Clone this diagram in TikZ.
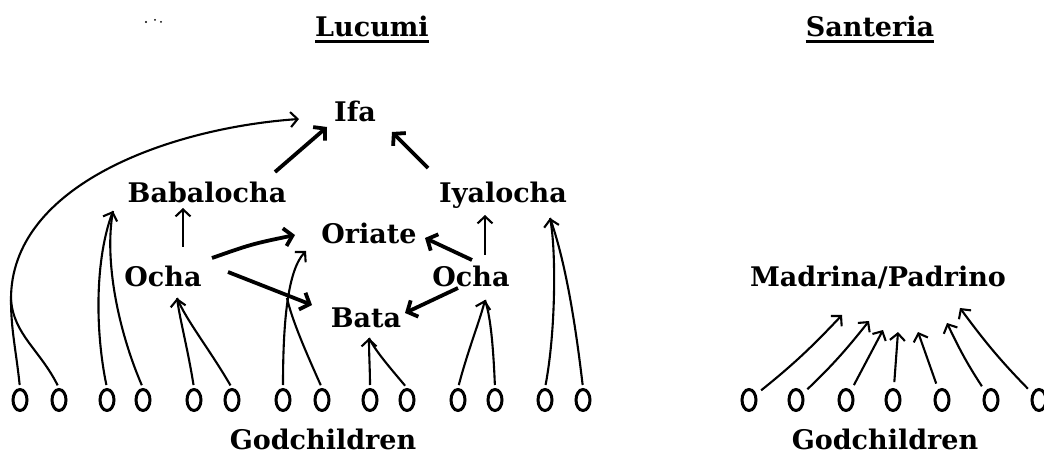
\documentclass[tikz,border=0pt]{standalone}
\usepackage{fontspec}
\setmainfont{DejaVu Serif}
\usetikzlibrary{arrows.meta,shapes.geometric}
\begin{document}
\begin{tikzpicture}[x=1pt,y=-1pt,
  lbl/.style={font=\fontsize{27}{30}\selectfont\bfseries, anchor=base, inner sep=0pt},
  gc/.style={draw, ellipse, line width=3pt, minimum width=14pt, minimum height=21pt, inner sep=0pt},
  ln/.style={line width=2.1pt},
  arr/.style={line width=2.1pt, -{Straight Barb[length=7pt,width=15pt]}},
  tarr/.style={line width=3.8pt, -{Straight Barb[length=8pt,width=18pt]}},
  ul/.style={line width=2.2pt},
  gap/.style={shorten <=3pt}
]
\useasboundingbox (0,0) rectangle (1044,462);
% specks
\fill (146,22) circle (1.2pt) (155,20) circle (1pt) (161,22) circle (1pt);
% titles
\node[lbl] (lucumi) at (372,37) {Lucumi};
\node[lbl] (santeria) at (870,37) {Santeria};
\draw[ul] ([yshift=-4pt]lucumi.south west) -- ([yshift=-4pt]lucumi.south east);
\draw[ul] ([yshift=-4pt]santeria.south west) -- ([yshift=-4pt]santeria.south east);
% labels
\node[lbl] (ifa) at (355,122) {Ifa};
\node[lbl] (baba) at (207,203) {Babalocha};
\node[lbl] (iya) at (503,203) {Iyalocha};
\node[lbl] (oriate) at (369,244) {Oriate};
\node[lbl] (ochaL) at (163,287) {Ocha};
\node[lbl] (ochaR) at (471,287) {Ocha};
\node[lbl] (bata) at (366,327) {Bata};
\node[lbl] (madrina) at (878,287) {Madrina/Padrino};
\node[lbl] (godL) at (323,449) {Godchildren};
\node[lbl] (godR) at (885,449) {Godchildren};
% godchildren circles (Lucumi)
\foreach \i/\x in {1/20,2/59,3/107,4/143,5/194,6/232,7/283,8/322,9/370,10/407,11/458,12/495,13/545,14/583}
  \node[gc] (l\i) at (\x,400) {};
% godchildren circles (Santeria)
\foreach \i/\x in {1/749,2/796,3/846,4/893,5/942,6/991,7/1039}
  \node[gc] (r\i) at (\x,400) {};
% connector end points
\coordinate (m1) at (11,300);
\coordinate (tIfaArc) at (299,119);
\coordinate (tB) at (113,211);
\coordinate (tOL) at (177,298);
\coordinate (m5) at (287,298);
\coordinate (tOr) at (306,251);
\coordinate (tBa) at (369,338);
\coordinate (tOR) at (485,300);
\coordinate (tIy) at (550,218);
\coordinate (ochaLtop) at (183,247);
\coordinate (babaBot) at (183,208);
\coordinate (ochaRtop) at (485,255);
\coordinate (iyaBot) at (485,215);
\coordinate (babaTop) at (275,172);
\coordinate (ifaSW) at (327,127);
\coordinate (iyaTop) at (428,168);
\coordinate (ifaSE) at (392,132);
\coordinate (ochaLE1) at (212,258);
\coordinate (oriW) at (295,235);
\coordinate (ochaLE2) at (228,272);
\coordinate (bataW) at (312,305);
\coordinate (ochaRW1) at (472,260);
\coordinate (oriE) at (425,238);
\coordinate (ochaRW2) at (458,288);
\coordinate (bataE) at (405,313);
\coordinate (s1) at (842,315);
\coordinate (s2) at (869,321);
\coordinate (s3) at (883,330);
\coordinate (s4) at (898,332);
\coordinate (s5) at (918,332);
\coordinate (s6) at (947,323);
\coordinate (s7) at (960,308);
% Lucumi thin connectors
\draw[ln,gap] (l1.north) .. controls (16,350) and (11,330) .. (m1);
\draw[ln,gap] (l2.north) .. controls (40,350) and (14,335) .. (m1);
\draw[arr] (m1) .. controls (10,185) and (170,128) .. (tIfaArc);
\draw[arr,gap] (l3.north) .. controls (95,330) and (95,260) .. (tB);
\draw[ln,gap] (l4.north) .. controls (118,330) and (104,260) .. (tB);
\draw[arr] (ochaLtop) -- (babaBot);
\draw[arr,gap] (l5.north) .. controls (188,350) and (180,320) .. (tOL);
\draw[ln,gap] (l6.north) .. controls (210,350) and (186,320) .. (tOL);
\draw[arr,gap] (l7.north) .. controls (283,320) and (288,270) .. (tOr);
\draw[ln,gap] (l8.north) .. controls (305,350) and (292,320) .. (m5);
\draw[arr,gap] (l9.north) .. controls (370,370) and (369,355) .. (tBa);
\draw[ln,gap] (l10.north) .. controls (392,370) and (376,352) .. (tBa);
\draw[arr,gap] (l11.north) .. controls (468,350) and (480,320) .. (tOR);
\draw[ln,gap] (l12.north) .. controls (493,340) and (490,315) .. (tOR);
\draw[arr] (ochaRtop) -- (iyaBot);
\draw[arr,gap] (l13.north) .. controls (556,330) and (556,250) .. (tIy);
\draw[ln,gap] (l14.north) .. controls (575,320) and (565,260) .. (tIy);
% Lucumi thick connectors
\draw[tarr] (babaTop) -- (ifaSW);
\draw[tarr] (iyaTop) -- (ifaSE);
\draw[tarr] (ochaLE1) .. controls (252,244) .. (oriW);
\draw[tarr] (ochaLE2) -- (bataW);
\draw[tarr] (ochaRW1) -- (oriE);
\draw[tarr] (ochaRW2) -- (bataE);
% Santeria connectors
\draw[arr,shorten <=6pt] (r1) to[bend right=4] (s1);
\draw[arr,shorten <=6pt] (r2) to[bend right=4] (s2);
\draw[arr,shorten <=6pt] (r3) -- (s3);
\draw[arr,shorten <=6pt] (r4) -- (s4);
\draw[arr,shorten <=6pt] (r5) -- (s5);
\draw[arr,shorten <=6pt] (r6) to[bend left=4] (s6);
\draw[arr,shorten <=6pt] (r7) to[bend left=4] (s7);
\end{tikzpicture}
\end{document}
